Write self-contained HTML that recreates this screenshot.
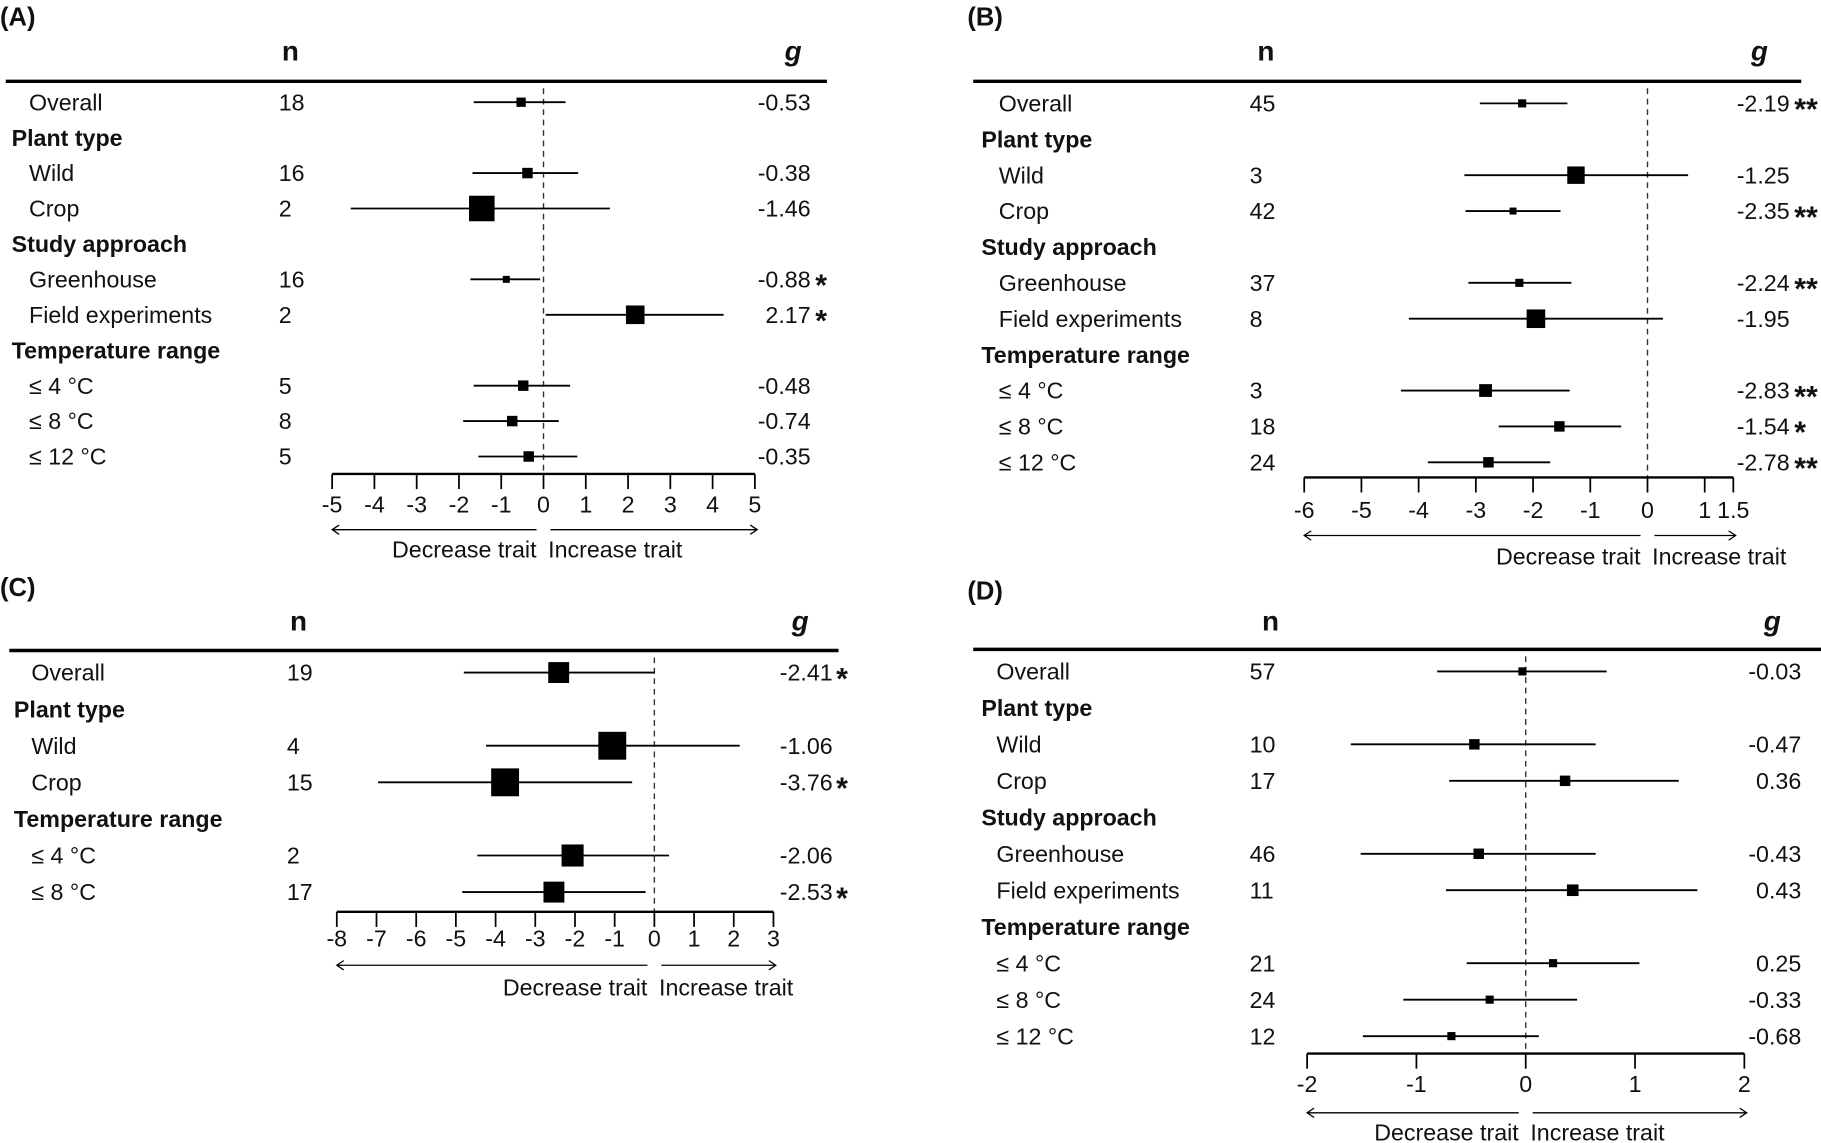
<!DOCTYPE html>
<html><head><meta charset="utf-8"><title>Forest plots</title>
<style>
html,body{margin:0;padding:0;background:#fff;}
svg{display:block;}
text{font-family:"Liberation Sans",Arial,sans-serif;fill:#111;}
</style></head>
<body>
<svg id="fig" width="1821" height="1143" viewBox="0 0 1568 984" preserveAspectRatio="none" xmlns="http://www.w3.org/2000/svg"></svg>
<script>
// ---------- Data ----------
// Panel A
const labelsA = ["Overall","#Plant type","Wild","Crop","#Study approach","Greenhouse","Field experiments","#Temperature range","≤ 4 °C","≤ 8 °C","≤ 12 °C"];
const nA = [18,null,16,2,null,16,2,null,5,8,5];
const gA = [-0.53,null,-0.38,-1.46,null,-0.88,2.17,null,-0.48,-0.74,-0.35];
const loA = [-1.65,null,-1.68,-4.56,null,-1.73,0.05,null,-1.65,-1.9,-1.54];
const hiA = [0.52,null,0.82,1.57,null,-0.08,4.26,null,0.63,0.36,0.8];
const weightsA = [8,null,9,22,null,6,16,null,9,9,9];
const starsA = ["",null,"","",null,"*","*",null,"","",""];
const ticksA = [-5,-4,-3,-2,-1,0,1,2,3,4,5];
// Panel B
const labelsB = labelsA;
const nB = [45,null,3,42,null,37,8,null,3,18,24];
const gB = [-2.19,null,-1.25,-2.35,null,-2.24,-1.95,null,-2.83,-1.54,-2.78];
const loB = [-2.93,null,-3.2,-3.18,null,-3.13,-4.17,null,-4.31,-2.6,-3.84];
const hiB = [-1.4,null,0.71,-1.52,null,-1.33,0.27,null,-1.36,-0.46,-1.7];
const weightsB = [7,null,15,6,null,7,16,null,11,9,9];
const starsB = ["**",null,"","**",null,"**","",null,"**","*","**"];
const ticksB = [-6,-5,-4,-3,-2,-1,0,1,1.5];
// Panel C
const labelsC = ["Overall","#Plant type","Wild","Crop","#Temperature range","≤ 4 °C","≤ 8 °C"];
const nC = [19,null,4,15,null,2,17];
const gC = [-2.41,null,-1.06,-3.76,null,-2.06,-2.53];
const loC = [-4.8,null,-4.24,-6.96,null,-4.46,-4.84];
const hiC = [0,null,2.15,-0.56,null,0.37,-0.22];
const weightsC = [18,null,24,24,null,19,18];
const starsC = ["*",null,"","*",null,"","*"];
const ticksC = [-8,-7,-6,-5,-4,-3,-2,-1,0,1,2,3];
// Panel D
const labelsD = labelsA;
const nD = [57,null,10,17,null,46,11,null,21,24,12];
const gD = [-0.03,null,-0.47,0.36,null,-0.43,0.43,null,0.25,-0.33,-0.68];
const loD = [-0.81,null,-1.6,-0.7,null,-1.51,-0.73,null,-0.54,-1.12,-1.49];
const hiD = [0.74,null,0.64,1.4,null,0.64,1.57,null,1.04,0.47,0.12];
const weightsD = [7,null,9,9,null,9,10,null,7,7,7];
const starsD = ["",null,"","",null,"","",null,"","",""];
const ticksD = [-2,-1,0,1,2];

// ---------- Layout ----------
const NS="http://www.w3.org/2000/svg";
const svg=document.getElementById('fig');
function mk(tag,attrs,parent){const e=document.createElementNS(NS,tag);for(const k in attrs)e.setAttribute(k,attrs[k]);(parent||svg).appendChild(e);return e;}
function txt(s,x,y,attrs,parent){const t=mk('text',Object.assign({x:x,y:y,'font-size':20},attrs||{}),parent);t.textContent=s;return t;}

const panels=[
 {id:'a',tag:'(A)',tx:0,ty:22,labels:labelsA,n:nA,g:gA,lo:loA,hi:hiA,w:weightsA,stars:starsA,ticks:ticksA,
  dmin:-5,dmax:5,px0:286,px1:650,y0:88,dy:30.5,axisY:408,tickY:441,arrowY:456,textY:480,
  labelX:25,headX:10,nX:240,gR:698,starX:702,nHX:250,gHX:683,hY:52,lineX0:5,lineX1:712,lineY:70},
 {id:'b',tag:'(B)',tx:833,ty:22,labels:labelsB,n:nB,g:gB,lo:loB,hi:hiB,w:weightsB,stars:starsB,ticks:ticksB,
  dmin:-6,dmax:1.5,px0:1123,px1:1492.5,y0:89,dy:30.9,axisY:411,tickY:446,arrowY:461,textY:486,
  labelX:860,headX:845,nX:1076,gR:1541,starX:1545,nHX:1090,gHX:1515,hY:52,lineX0:838,lineX1:1551,lineY:70},
 {id:'c',tag:'(C)',tx:0,ty:513,labels:labelsC,n:nC,g:gC,lo:loC,hi:hiC,w:weightsC,stars:starsC,ticks:ticksC,
  dmin:-8,dmax:3,px0:290,px1:666,y0:579,dy:31.5,axisY:785,tickY:815,arrowY:831,textY:857,
  labelX:27,headX:12,nX:247,gR:717,starX:720,nHX:257,gHX:689,hY:543,lineX0:8,lineX1:722,lineY:560},
 {id:'d',tag:'(D)',tx:833,ty:516,labels:labelsD,n:nD,g:gD,lo:loD,hi:hiD,w:weightsD,stars:starsD,ticks:ticksD,
  dmin:-2,dmax:2,px0:1125.5,px1:1502,y0:578,dy:31.4,axisY:907,tickY:940,arrowY:958,textY:982,
  labelX:858,headX:845,nX:1076,gR:1551,starX:1556,nHX:1094,gHX:1526,hY:543,lineX0:838,lineX1:1568,lineY:559}
];

panels.forEach(p=>{
  const grp=mk('g',{});
  
  
  const xs=v=>p.px0+(v-p.dmin)/(p.dmax-p.dmin)*(p.px1-p.px0);
  const rowY=i=>p.y0+i*p.dy;

  let t=txt(p.tag,p.tx,p.ty,{'font-size':22,'font-weight':'bold'},grp);
  
  
  t=txt('n',p.nHX,p.hY,{'font-size':24,'font-weight':'bold','text-anchor':'middle'},grp);
  
  
  t=txt('g',p.gHX,p.hY,{'font-size':24,'font-weight':'bold','font-style':'italic','text-anchor':'middle'},grp);
  
  
  let l=mk('line',{x1:p.lineX0,x2:p.lineX1,y1:p.lineY,y2:p.lineY,stroke:'#000','stroke-width':3},grp);
  
  

  const x0=xs(0);
  l=mk('line',{x1:x0,x2:x0,y1:p.lineY+6,y2:p.axisY,stroke:'#333','stroke-width':1.2,'stroke-dasharray':'5,4'},grp);
  
  

  p.labels.forEach((lab,i)=>{
    const y=rowY(i);
    if(lab.startsWith('#')){
      const h=txt(lab.slice(1),p.headX,y+7,{'font-weight':'bold'},grp);
      
      
      return;
    }
    const a=txt(lab,p.labelX,y+7,{},grp);
    
    
    const nn=txt(String(p.n[i]),p.nX,y+7,{},grp);
    
    
    const gv=txt(p.g[i].toFixed(2),p.gR,y+7,{'text-anchor':'end'},grp);
    
    
    if(p.stars[i]){
      const s=txt(p.stars[i],p.starX,y+14,{'font-weight':'bold','font-size':26},grp);
      
      
    }
    const ci=mk('line',{x1:xs(p.lo[i]),x2:xs(p.hi[i]),y1:y,y2:y,stroke:'#000','stroke-width':1.6},grp);
    
    
    const sz=p.w[i];
    const bx=mk('rect',{x:xs(p.g[i])-sz/2,y:y-sz/2,width:sz,height:sz,fill:'#000'},grp);
    
    
  });

  l=mk('line',{x1:xs(p.dmin),x2:xs(p.dmax),y1:p.axisY,y2:p.axisY,stroke:'#000','stroke-width':2},grp);
  
  
  p.ticks.forEach(v=>{
    const tk=mk('line',{x1:xs(v),x2:xs(v),y1:p.axisY,y2:p.axisY+13,stroke:'#000','stroke-width':1.5},grp);
    
    
    const tl=txt(String(v),xs(v),p.tickY,{'text-anchor':'middle','font-size':20},grp);
    
    
  });
  const L0=xs(p.dmin), L1=x0-6, R0=x0+6, R1=xs(p.dmax)+2;
  const al=mk('path',{d:`M${L1},${p.arrowY} H${L0} M${L0+6},${p.arrowY-4} L${L0},${p.arrowY} L${L0+6},${p.arrowY+4}`,stroke:'#000','stroke-width':1.1,fill:'none'},grp);
  
  
  const ar=mk('path',{d:`M${R0},${p.arrowY} H${R1} M${R1-6},${p.arrowY-4} L${R1},${p.arrowY} L${R1-6},${p.arrowY+4}`,stroke:'#000','stroke-width':1.1,fill:'none'},grp);
  
  
  t=txt('Decrease trait',L1,p.textY,{'text-anchor':'end'},grp);
  
  
  t=txt('Increase trait',R0-2,p.textY,{},grp);
  
  
});
</script>
</body></html>
